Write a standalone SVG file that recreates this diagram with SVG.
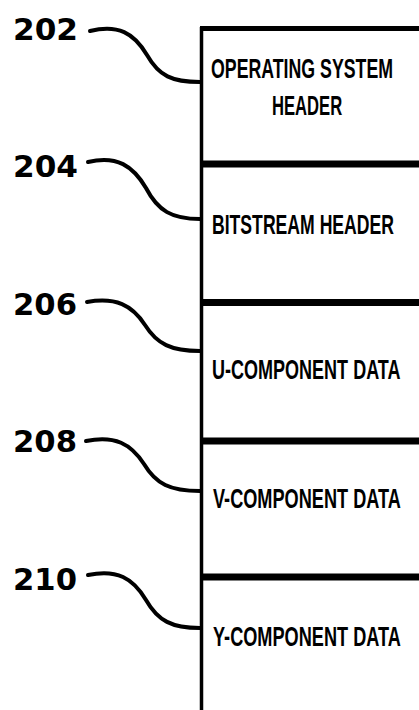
<svg xmlns="http://www.w3.org/2000/svg" width="419" height="710" viewBox="0 0 419 710">
<style>
.num{font-family:"DejaVu Sans","Liberation Sans",sans-serif;font-weight:bold;font-size:30px;fill:#000}
.lbl{font-family:"Liberation Sans","DejaVu Sans",sans-serif;font-weight:bold;font-size:27px;fill:#000}
.div{stroke:#000;stroke-width:7;fill:none}
.edge{stroke:#000;stroke-width:3.5;fill:none}
.lead{stroke:#000;stroke-width:4;fill:none;stroke-linecap:round}
</style>
<rect x="0" y="0" width="419" height="710" fill="#fff"/>
<g id="frame">
<line class="edge" x1="201.5" y1="27" x2="201.5" y2="710"/>
<line class="edge" x1="200" y1="28.5" x2="419" y2="28.5" style="stroke-width:5"/>
</g>
<g id="node-202">
<text class="lbl" transform="translate(211,78) scale(0.65,1)" textLength="280" lengthAdjust="spacingAndGlyphs">OPERATING SYSTEM</text>
<text class="lbl" transform="translate(272,115) scale(0.65,1)" textLength="108" lengthAdjust="spacingAndGlyphs">HEADER</text>
<line class="div" x1="200" y1="164" x2="419" y2="164"/>
</g>
<g id="node-204">
<text class="lbl" transform="translate(212,234) scale(0.65,1)" textLength="280" lengthAdjust="spacingAndGlyphs">BITSTREAM HEADER</text>
<line class="div" x1="200" y1="302.5" x2="419" y2="302.5"/>
</g>
<g id="node-206">
<text class="lbl" transform="translate(212,379) scale(0.65,1)" textLength="290" lengthAdjust="spacingAndGlyphs">U-COMPONENT DATA</text>
<line class="div" x1="200" y1="441" x2="419" y2="441"/>
</g>
<g id="node-208">
<text class="lbl" transform="translate(213,508) scale(0.65,1)" textLength="289" lengthAdjust="spacingAndGlyphs">V-COMPONENT DATA</text>
<line class="div" x1="200" y1="577" x2="419" y2="577"/>
</g>
<g id="node-210">
<text class="lbl" transform="translate(213,646) scale(0.65,1)" textLength="289" lengthAdjust="spacingAndGlyphs">Y-COMPONENT DATA</text>
</g>
<g id="labels">
<text class="num" x="13" y="40" textLength="65" lengthAdjust="spacingAndGlyphs">202</text>
<text class="num" x="13" y="177" textLength="65" lengthAdjust="spacingAndGlyphs">204</text>
<text class="num" x="13" y="315" textLength="64" lengthAdjust="spacingAndGlyphs">206</text>
<text class="num" x="13" y="452" textLength="64" lengthAdjust="spacingAndGlyphs">208</text>
<text class="num" x="13" y="590" textLength="64" lengthAdjust="spacingAndGlyphs">210</text>
</g>
<g id="connectors">
<path class="lead" d="M90,31 C118,24 134,33 147,55 C159,76 172,82 200,82"/>
<path class="lead" d="M88,162 C117,155 133,166 146,188 C158,211 172,219 200,219"/>
<path class="lead" d="M87,302 C116,297 132,305 145,325 C157,344 171,351 200,351"/>
<path class="lead" d="M86,441 C115,435 131,444 144,464 C156,484 170,491 200,491"/>
<path class="lead" d="M88,575 C117,569 133,578 146,600 C158,621 172,628 200,628"/>
</g>
</svg>
